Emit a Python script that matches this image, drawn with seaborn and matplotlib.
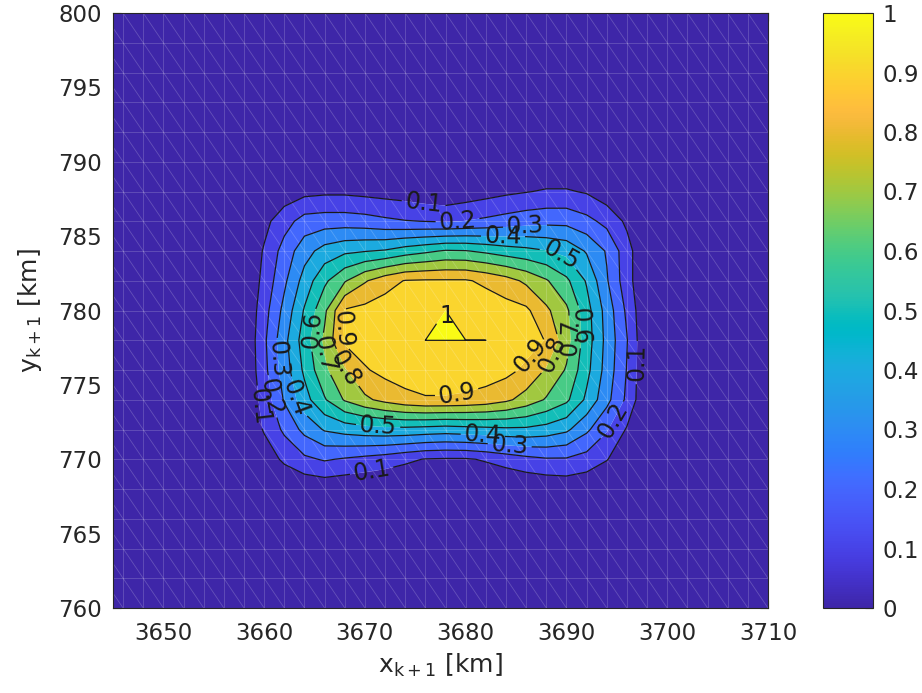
import numpy as np
import matplotlib
matplotlib.use("Agg")
import matplotlib.pyplot as plt
import seaborn as sns
from matplotlib.colors import LinearSegmentedColormap, Normalize
from matplotlib.cm import ScalarMappable
from matplotlib.collections import LineCollection
from matplotlib.ticker import FuncFormatter

# ---------------- data ----------------
# grid columns (x, km) and rows (y, km) of the non-zero part of the surface
blob_x = [3658, 3660, 3662, 3664, 3666, 3668, 3670, 3672, 3674, 3676, 3678,
          3680, 3682, 3684, 3686, 3688, 3690, 3692, 3694, 3696, 3698]
blob_y = [790, 788, 786, 784, 782, 780, 778, 776, 774, 772, 770, 768]

row_790 = [0, 0, 0, 0, 0, 0, 0, 0, 0, 0, 0, 0, 0, 0, 0, 0, 0, 0, 0, 0, 0]
row_788 = [0, 0.01, 0.04, 0.07, 0.08, 0.08, 0.07, 0.06, 0.05, 0.03, 0.02,
           0.04, 0.06, 0.08, 0.095, 0.11, 0.11, 0.09, 0.04, 0, 0]
row_786 = [0, 0.07, 0.16, 0.24, 0.25, 0.25, 0.24, 0.22, 0.205, 0.198, 0.19,
           0.203, 0.22, 0.24, 0.26, 0.27, 0.27, 0.23, 0.17, 0.08, 0]
row_784 = [0, 0.11, 0.24, 0.36, 0.44, 0.48, 0.495, 0.51, 0.55, 0.58, 0.61,
           0.605, 0.58, 0.55, 0.53, 0.505, 0.47, 0.39, 0.29, 0.14, 0]
row_782 = [0, 0.13, 0.28, 0.44, 0.58, 0.69, 0.79, 0.86, 0.905, 0.91, 0.91,
           0.91, 0.88, 0.84, 0.78, 0.71, 0.62, 0.49, 0.31, 0.14, 0]
row_780 = [0, 0.16, 0.33, 0.51, 0.68, 0.91, 0.93, 0.95, 0.96, 0.97, 1.0,
           0.97, 0.96, 0.94, 0.92, 0.82, 0.72, 0.54, 0.36, 0.18, 0]
row_778 = [0, 0.18, 0.37, 0.55, 0.72, 0.92, 0.95, 0.96, 0.97, 1.0, 1.0,
           1.0, 1.0, 0.96, 0.94, 0.895, 0.74, 0.55, 0.37, 0.205, 0]
row_776 = [0, 0.17, 0.35, 0.52, 0.68, 0.79, 0.89, 0.93, 0.95, 0.96, 0.96,
           0.96, 0.95, 0.93, 0.88, 0.79, 0.69, 0.53, 0.36, 0.195, 0]
row_774 = [0, 0.14, 0.31, 0.46, 0.59, 0.71, 0.78, 0.83, 0.87, 0.89, 0.89,
           0.88, 0.86, 0.82, 0.76, 0.69, 0.62, 0.48, 0.33, 0.18, 0]
row_772 = [0, 0.11, 0.22, 0.33, 0.41, 0.44, 0.46, 0.47, 0.47, 0.46, 0.45,
           0.46, 0.47, 0.48, 0.48, 0.46, 0.42, 0.32, 0.21, 0.09, 0]
row_770 = [0, 0.04, 0.12, 0.18, 0.21, 0.19, 0.17, 0.15, 0.12, 0.095, 0.09,
           0.09, 0.11, 0.14, 0.17, 0.19, 0.19, 0.16, 0.105, 0.03, 0]
row_768 = [0, 0, 0, 0.02, 0.03, 0.02, 0.01, 0, 0, 0, 0,
           0, 0, 0, 0.01, 0.02, 0.03, 0.02, 0, 0, 0]

contour_levels = [0.1, 0.2, 0.3, 0.4, 0.5, 0.6, 0.7, 0.8, 0.9, 1.0]
cbar_ticks = [0, 0.1, 0.2, 0.3, 0.4, 0.5, 0.6, 0.7, 0.8, 0.9, 1.0]
x_ticks = [3650, 3660, 3670, 3680, 3690, 3700, 3710]
y_ticks = [760, 765, 770, 775, 780, 785, 790, 795, 800]

# where MATLAB put the inline contour labels (data coords)
label_spots = [
    (3675.8, 787.1), (3679.2, 786.0), (3685.9, 785.6), (3683.7, 784.9),
    (3689.6, 784.0), (3691.2, 778.9), (3690.3, 778.2), (3688.8, 777.0),
    (3687.0, 776.6), (3696.6, 776.5), (3694.6, 772.6), (3684.4, 771.2),
    (3681.7, 771.8), (3671.3, 772.15), (3679.1, 774.5), (3670.7, 769.1),
    (3669.2, 778.7), (3668.6, 776.4), (3666.3, 777.1), (3664.5, 778.7),
    (3661.3, 776.7), (3663.6, 774.2), (3660.6, 774.2), (3659.4, 773.5),
    (3677.9, 779.6),
]
one_label_pos = (3678.1, 779.6)

# ---------------- parula colormap ----------------
parula_rgb = [
    [0.2422, 0.1504, 0.6603], [0.2504, 0.1650, 0.7076], [0.2578, 0.1818, 0.7511],
    [0.2647, 0.1978, 0.7952], [0.2706, 0.2147, 0.8364], [0.2751, 0.2342, 0.8710],
    [0.2783, 0.2559, 0.8991], [0.2803, 0.2782, 0.9221], [0.2813, 0.3006, 0.9414],
    [0.2810, 0.3228, 0.9579], [0.2795, 0.3447, 0.9717], [0.2760, 0.3667, 0.9829],
    [0.2699, 0.3892, 0.9906], [0.2602, 0.4123, 0.9952], [0.2440, 0.4358, 0.9988],
    [0.2206, 0.4603, 0.9973], [0.1963, 0.4847, 0.9892], [0.1834, 0.5074, 0.9798],
    [0.1786, 0.5289, 0.9682], [0.1764, 0.5499, 0.9520], [0.1687, 0.5703, 0.9359],
    [0.1540, 0.5902, 0.9218], [0.1460, 0.6091, 0.9079], [0.1380, 0.6276, 0.8973],
    [0.1248, 0.6459, 0.8883], [0.1113, 0.6635, 0.8763], [0.0952, 0.6798, 0.8598],
    [0.0689, 0.6948, 0.8394], [0.0297, 0.7082, 0.8163], [0.0036, 0.7203, 0.7917],
    [0.0067, 0.7312, 0.7660], [0.0433, 0.7411, 0.7394], [0.0964, 0.7500, 0.7120],
    [0.1408, 0.7584, 0.6842], [0.1717, 0.7670, 0.6554], [0.1938, 0.7758, 0.6251],
    [0.2161, 0.7843, 0.5923], [0.2470, 0.7918, 0.5567], [0.2906, 0.7973, 0.5188],
    [0.3406, 0.8008, 0.4789], [0.3909, 0.8029, 0.4354], [0.4456, 0.8024, 0.3909],
    [0.5044, 0.7993, 0.3480], [0.5616, 0.7942, 0.3045], [0.6174, 0.7876, 0.2612],
    [0.6720, 0.7793, 0.2227], [0.7242, 0.7698, 0.1910], [0.7738, 0.7598, 0.1646],
    [0.8203, 0.7498, 0.1535], [0.8634, 0.7406, 0.1596], [0.9035, 0.7330, 0.1774],
    [0.9393, 0.7288, 0.2100], [0.9728, 0.7298, 0.2394], [0.9956, 0.7434, 0.2371],
    [0.9970, 0.7659, 0.2199], [0.9952, 0.7893, 0.2028], [0.9892, 0.8136, 0.1885],
    [0.9786, 0.8386, 0.1766], [0.9676, 0.8639, 0.1643], [0.9610, 0.8890, 0.1537],
    [0.9597, 0.9135, 0.1423], [0.9628, 0.9373, 0.1265], [0.9691, 0.9606, 0.1064],
    [0.9769, 0.9839, 0.0805],
]
parula = LinearSegmentedColormap.from_list("parula", parula_rgb, N=256)

# ---------------- build the full surface ----------------
x_full = np.arange(3644, 3712, 2)
y_full = np.arange(760, 802, 2)
Z = np.zeros((len(y_full), len(x_full)))
blob_rows = [row_790, row_788, row_786, row_784, row_782, row_780,
             row_778, row_776, row_774, row_772, row_770, row_768]
for yv, row in zip(blob_y, blob_rows):
    iy = int(np.where(y_full == yv)[0][0])
    for xv, val in zip(blob_x, row):
        ix = int(np.where(x_full == xv)[0][0])
        Z[iy, ix] = val
XX, YY = np.meshgrid(x_full, y_full)

# ---------------- style ----------------
sns.set_theme(style="white")
plt.rcParams['font.family'] = ['DejaVu Sans']
plt.rcParams['mathtext.fontset'] = 'dejavusans'
dark = (0.15, 0.15, 0.15)

fig = plt.figure(figsize=(9.22, 6.93), dpi=100)
fig.patch.set_facecolor('white')
ax = fig.add_axes([113 / 922, 1 - 608 / 693, 655 / 922, 595 / 693])
cax = fig.add_axes([823 / 922, 1 - 608 / 693, 50 / 922, 595 / 693])

# filled bands: MATLAB colours each band by its lower level
top = 0.9999
fill_levels = [0.0] + contour_levels[:-1] + [top, 1.0001]
fill_colors = [parula(v) for v in [0.0] + contour_levels]
ax.contourf(XX, YY, Z, levels=fill_levels, colors=fill_colors,
            antialiased=True, zorder=1)

# faint mesh edges (MATLAB rendering artefact)
segs = []
for xv in x_full:
    segs.append([(xv, y_full[0]), (xv, y_full[-1])])
for yv in y_full:
    segs.append([(x_full[0], yv), (x_full[-1], yv)])
for xv in x_full[:-1]:
    for yv in y_full[:-1]:
        segs.append([(xv, yv + 2), (xv + 2, yv)])
ax.add_collection(LineCollection(segs, colors='white', linewidths=0.6,
                                 alpha=0.2, zorder=1.5))

line_levels = contour_levels[:-1] + [top]
cs = ax.contour(XX, YY, Z, levels=line_levels, colors='k', linewidths=0.9,
                zorder=2)
texts = ax.clabel(cs, manual=label_spots, inline=True, inline_spacing=3,
                  fontsize=17, colors='k',
                  fmt=lambda v: '1' if v > 0.99 else f'{v:.1f}')
for t in texts:
    if t.get_text() == '1':
        t.set_rotation(0)
        t.set_position(one_label_pos)

ax.set_xlim(3645, 3710)
ax.set_ylim(760, 800)
ax.set_xticks(x_ticks)
ax.set_yticks(y_ticks)
ax.tick_params(axis='both', which='both', direction='in', length=6,
               width=0.8, colors=dark, labelsize=16.5,
               top=True, right=True, bottom=True, left=True)
ax.tick_params(axis='x', pad=10)
ax.tick_params(axis='y', pad=8)
for sp in ax.spines.values():
    sp.set_color(dark)
    sp.set_linewidth(0.8)
    sp.set_visible(True)
ax.set_xlabel(r'$\mathregular{x_{k+1}}$ [km]', fontsize=18, color=dark,
              labelpad=5)
ax.set_ylabel(r'$\mathregular{y_{k+1}}$ [km]', fontsize=18, color=dark,
              labelpad=10)

# colorbar with continuous parula
sm = ScalarMappable(norm=Normalize(0, 1), cmap=parula)
cb = fig.colorbar(sm, cax=cax, ticks=cbar_ticks)
cb.ax.yaxis.set_major_formatter(FuncFormatter(lambda v, _: f'{v:g}'))
cb.ax.tick_params(direction='in', length=6, width=0.8, colors=dark,
                  labelsize=16.5, right=True, left=False, pad=7)
cb.outline.set_edgecolor(dark)
cb.outline.set_linewidth(0.8)

fig.savefig('out.png', dpi=100, facecolor='white')
